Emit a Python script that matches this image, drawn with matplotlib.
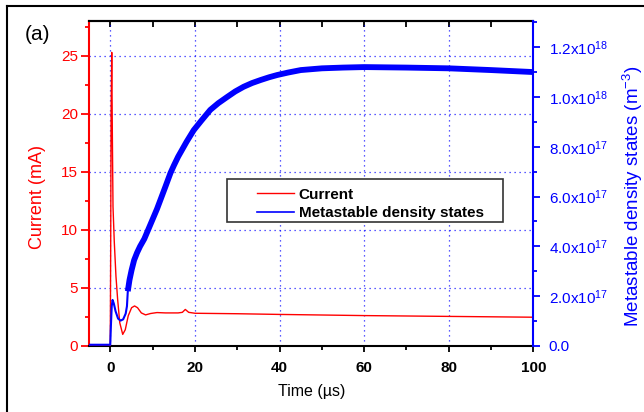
import numpy as np
import matplotlib
matplotlib.use("Agg")
import matplotlib.pyplot as plt
from matplotlib.lines import Line2D
from matplotlib.patches import Rectangle

plt.rcParams['font.family'] = ['Liberation Sans', 'DejaVu Sans']
plt.rcParams['mathtext.fontset'] = 'custom'
plt.rcParams['mathtext.rm'] = 'Liberation Sans'
plt.rcParams['mathtext.it'] = 'Liberation Sans:italic'
plt.rcParams['mathtext.bf'] = 'Liberation Sans:bold'

# ---- Data ----
t_current = [-5, -0.05, 0.05, 0.15, 0.3, 0.45, 0.6, 0.9, 1.3, 1.7, 2.2, 2.9,
             3.5, 4.2, 5.0, 5.7, 6.4, 7.3, 8.3, 9.5, 11, 13, 16, 17.0, 17.7,
             18.5, 20, 30, 40, 60, 80, 100]
current_mA = [0, 0, 8, 20, 25.3, 18, 12, 9, 6, 4, 2.0, 1.0,
              1.4, 2.6, 3.3, 3.45, 3.3, 2.85, 2.68, 2.8, 2.88, 2.85, 2.85, 2.9, 3.15,
              2.9, 2.82, 2.78, 2.72, 2.62, 2.55, 2.48]

t_density = [-5, -0.05, 0.1, 0.3, 0.5, 0.8, 1.2, 1.8, 2.4, 3.0, 3.6, 3.9,
             4.1, 4.5, 5.0, 5.6, 6.3, 7.0, 8.0, 9.0, 10.0, 11.0, 12.0, 13.0,
             14.2, 15.0, 16.0, 18.0, 19.7, 21.5, 23.6, 25.5, 27.6, 29.5, 31.5,
             33.5, 35.5, 37.5, 39.4, 42.0, 45.0, 50.0, 55.0, 60.0, 70.0, 80.0,
             90.0, 100.0]
density_m3 = [0.005e18, 0.005e18, 0.08e18, 0.16e18, 0.185e18, 0.17e18, 0.14e18,
              0.11e18, 0.102e18, 0.107e18, 0.13e18, 0.16e18,
              0.22e18, 0.265e18, 0.305e18, 0.345e18, 0.375e18, 0.40e18, 0.43e18,
              0.47e18, 0.51e18, 0.55e18, 0.595e18, 0.64e18,
              0.695e18, 0.725e18, 0.76e18, 0.82e18, 0.867e18, 0.905e18, 0.948e18,
              0.975e18, 1.0e18, 1.022e18, 1.041e18,
              1.056e18, 1.068e18, 1.079e18, 1.088e18, 1.098e18, 1.108e18, 1.115e18,
              1.118e18, 1.12e18, 1.118e18, 1.115e18,
              1.108e18, 1.10e18]

x_ticks = [0, 20, 40, 60, 80, 100]
x_minor = [10, 30, 50, 70, 90]
cur_ticks = [0, 5, 10, 15, 20, 25]
cur_minor = [2.5, 7.5, 12.5, 17.5, 22.5, 27.5]
dens_ticks = [0, 0.2e18, 0.4e18, 0.6e18, 0.8e18, 1.0e18, 1.2e18]
dens_minor = [0.1e18, 0.3e18, 0.5e18, 0.7e18, 0.9e18, 1.1e18, 1.3e18]
dens_labels = ['0.0',
               r'2.0x10$^{\mathregular{17}}$', r'4.0x10$^{\mathregular{17}}$',
               r'6.0x10$^{\mathregular{17}}$', r'8.0x10$^{\mathregular{17}}$',
               r'1.0x10$^{\mathregular{18}}$', r'1.2x10$^{\mathregular{18}}$']

RED = '#ff0000'
BLUE = '#0000ff'

fig = plt.figure(figsize=(6.44, 4.12), dpi=100)
ax = fig.add_axes([0.1387, 0.1602, 0.6894, 0.7888])
ax2 = ax.twinx()

# ---- Lines ----
ax.plot(t_current, current_mA, color=RED, lw=1.0, label='Current', zorder=3)

t_d = np.array(t_density)
d_m = np.array(density_m3)
ax2.plot(t_d, d_m, color=BLUE, lw=1.5)
# noisy part of the trace appears as a thick band
late = t_d >= 4.1
ax2.plot(t_d[late], d_m[late], color=BLUE, lw=4.2, solid_capstyle='butt',
         solid_joinstyle='round')

# ---- Axes limits / ticks ----
ax.set_xlim(-5, 100)
ax.set_ylim(0, 28.0)
ax2.set_ylim(0, 1.305e18)

ax.set_xticks(x_ticks)
ax.set_xticks(x_minor, minor=True)
ax.set_yticks(cur_ticks)
ax.set_yticks(cur_minor, minor=True)
ax2.set_yticks(dens_ticks)
ax2.set_yticklabels(dens_labels)
ax2.set_yticks(dens_minor, minor=True)

ax.tick_params(axis='x', which='major', direction='out', length=4, width=1.3,
               labelsize=11, pad=7, colors='black')
ax.tick_params(axis='x', which='minor', direction='out', length=3, width=1.3)
for lbl in ax.get_xticklabels():
    lbl.set_fontweight('bold')
ax.tick_params(axis='y', which='major', direction='out', length=6, width=1.3,
               labelsize=11, pad=2, colors=RED)
ax.tick_params(axis='y', which='minor', direction='out', length=3, width=1.3, colors=RED)
ax2.tick_params(axis='y', which='major', direction='out', length=5, width=1.3,
                labelsize=11, pad=6, colors=BLUE)
ax2.tick_params(axis='y', which='minor', direction='out', length=3, width=1.3, colors=BLUE)

# top ticks point inward
top = ax.secondary_xaxis('top')
top.set_xticks(x_ticks)
top.set_xticks(x_minor, minor=True)
top.tick_params(which='both', direction='in', length=4, width=1.3, labeltop=False)
top.spines['top'].set_linewidth(1.5)

# ---- Spines ----
ax.spines['left'].set_color(RED)
ax.spines['left'].set_linewidth(1.5)
ax.spines['bottom'].set_linewidth(1.5)
ax.spines['top'].set_linewidth(1.5)
ax.spines['right'].set_visible(False)
ax2.spines['right'].set_color(BLUE)
ax2.spines['right'].set_linewidth(1.5)
for s in ['left', 'top', 'bottom']:
    ax2.spines[s].set_visible(False)

# ---- Grid ----
ax.grid(True, which='major', color=BLUE, lw=0.9, linestyle=(0, (1, 3)), alpha=0.85)

# ---- Labels ----
ax.set_xlabel('Time (\u00b5s)', fontsize=11.5, labelpad=6)
ax.set_ylabel('Current (mA)', fontsize=13, color=RED)
ax.yaxis.set_label_coords(-0.0975, 0.46)
ax2.set_ylabel(r'Metastable density states (m$^{\mathregular{-3}}$)', fontsize=13.5,
               color=BLUE)
ax2.yaxis.set_label_coords(1.198, 0.46)

# ---- Legend (Origin-style box) ----
ax2.add_patch(Rectangle((0.310, 0.3815), 0.622, 0.1325, transform=ax2.transAxes,
                        facecolor='white', edgecolor='#333333', lw=1.2, zorder=4))
handles = [Line2D([], [], color=RED, lw=1.0), Line2D([], [], color=BLUE, lw=1.2)]
leg = ax2.legend(handles, ['Current', 'Metastable density states'],
                 loc='upper left', bbox_to_anchor=(0.3597, 0.511), frameon=False,
                 borderpad=0, handlelength=2.42, handletextpad=0.33,
                 labelspacing=0.32, prop={'weight': 'bold', 'size': 11})
leg.set_zorder(5)

# ---- Panel label and outer frame ----
fig.text(25 / 644, 1 - 34 / 412, '(a)', fontsize=15, va='center', ha='left')
fig.add_artist(Line2D([7 / 644, 7 / 644], [0, 1 - 6 / 412], color='black', lw=1.5,
                      transform=fig.transFigure))
fig.add_artist(Line2D([7 / 644, 1], [1 - 6 / 412, 1 - 6 / 412], color='black', lw=1.5,
                      transform=fig.transFigure))

fig.savefig('out.png', dpi=100)
